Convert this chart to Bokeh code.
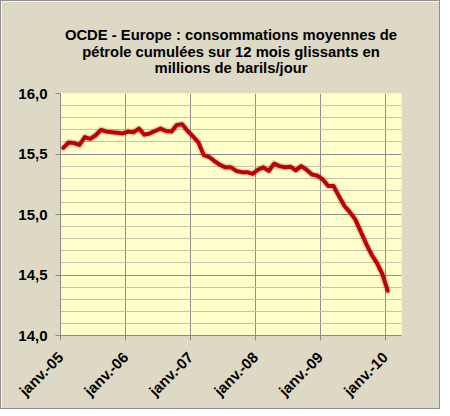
import numpy as np
from math import pi
from bokeh.plotting import figure
from bokeh.models import Title, FixedTicker, SingleIntervalTicker, CustomJSTickFormatter, Range1d
from bokeh.embed import file_html
from bokeh.resources import INLINE

title_lines = [
    "OCDE - Europe : consommations moyennes de",
    "pétrole cumulées sur 12 mois glissants en",
    "millions de barils/jour",
]
tick_labels = ["janv.-05", "janv.-06", "janv.-07", "janv.-08", "janv.-09", "janv.-10"]
# monthly values, Jan 2005 .. Jan 2010 (million barrels/day)
conso = [
    15.55, 15.595, 15.59, 15.575, 15.64, 15.625, 15.655, 15.70, 15.685, 15.68, 15.675, 15.67,
    15.685, 15.68, 15.71, 15.66, 15.67, 15.69, 15.71, 15.69, 15.685, 15.74, 15.745, 15.69,
    15.645, 15.595, 15.49, 15.475, 15.44, 15.41, 15.39, 15.39, 15.36, 15.35, 15.35, 15.335,
    15.37, 15.39, 15.36, 15.42, 15.40, 15.39, 15.395, 15.365, 15.40, 15.37, 15.33, 15.32,
    15.29, 15.235, 15.235, 15.15, 15.07, 15.02, 14.96, 14.86, 14.76, 14.67, 14.60, 14.51,
    14.37,
]

FONT = "Liberation Sans"
x = np.arange(len(conso)) + 0.5
tick_pos = [12 * i for i in range(len(tick_labels))]

p = figure(
    frame_width=341, frame_height=242,
    min_border_left=59, min_border_right=38, min_border_top=92, min_border_bottom=70,
    x_range=Range1d(0, 63.05), y_range=Range1d(14.0, 16.0),
    output_backend="svg", toolbar_location=None, title=None,
    background_fill_color="#FFFFCC", border_fill_color="#DDD9C4",
)
p.outline_line_color = None
p.styles = {"border": "1px solid #8f8f8f"}

# spacer between title block and plot area, then the three centred title lines
p.add_layout(Title(text=" ", text_font=FONT, text_font_size="16px", standoff=0), "above")
for txt, so in zip(reversed(title_lines), [-2, -2, 0]):
    p.add_layout(Title(text=txt, align="center", text_font=FONT, text_font_size="14.8px",
                       text_font_style="bold", text_color="black", standoff=so, offset=-5), "above")

# y axis
p.yaxis.ticker = SingleIntervalTicker(interval=0.5, num_minor_ticks=5)
p.yaxis.formatter = CustomJSTickFormatter(code="return tick.toFixed(1).replace('.', ',');")
p.yaxis.major_label_text_font = FONT
p.yaxis.major_label_text_font_size = "15px"
p.yaxis.major_label_text_font_style = "bold"
p.yaxis.major_label_text_color = "black"
p.yaxis.axis_line_color = "#8a8a8a"
p.yaxis.major_tick_line_color = "#8a8a8a"
p.yaxis.major_tick_out = 5
p.yaxis.major_tick_in = 0
p.yaxis.minor_tick_line_color = None
p.yaxis.major_label_standoff = 8

# x axis
p.xaxis.ticker = FixedTicker(ticks=tick_pos)
p.xaxis.major_label_overrides = {t: lab for t, lab in zip(tick_pos, tick_labels)}
p.xaxis.major_label_orientation = pi / 4
p.xaxis.major_label_text_font = FONT
p.xaxis.major_label_text_font_size = "15px"
p.xaxis.major_label_text_font_style = "bold"
p.xaxis.major_label_text_color = "black"
p.xaxis.axis_line_color = "#8a8a8a"
p.xaxis.major_tick_line_color = "#8a8a8a"
p.xaxis.major_tick_out = 5
p.xaxis.major_tick_in = 0
p.xaxis.minor_tick_line_color = None
p.xaxis.major_label_standoff = 14

# grids
p.ygrid.ticker = SingleIntervalTicker(interval=0.5, num_minor_ticks=5)
p.ygrid.grid_line_color = "#8f8f8f"
p.ygrid.minor_grid_line_color = "#c6c4a8"
p.xgrid.ticker = FixedTicker(ticks=tick_pos)
p.xgrid.grid_line_color = "#8f8f8f"

# shadow + line
p.line(x, conso, line_color="#000000", line_alpha=0.15, line_width=7, line_join="round", line_cap="round")
p.line(x, conso, line_color="#C00000", line_width=4, line_join="round", line_cap="round")

open("out.html", "w").write(file_html(p, INLINE))
